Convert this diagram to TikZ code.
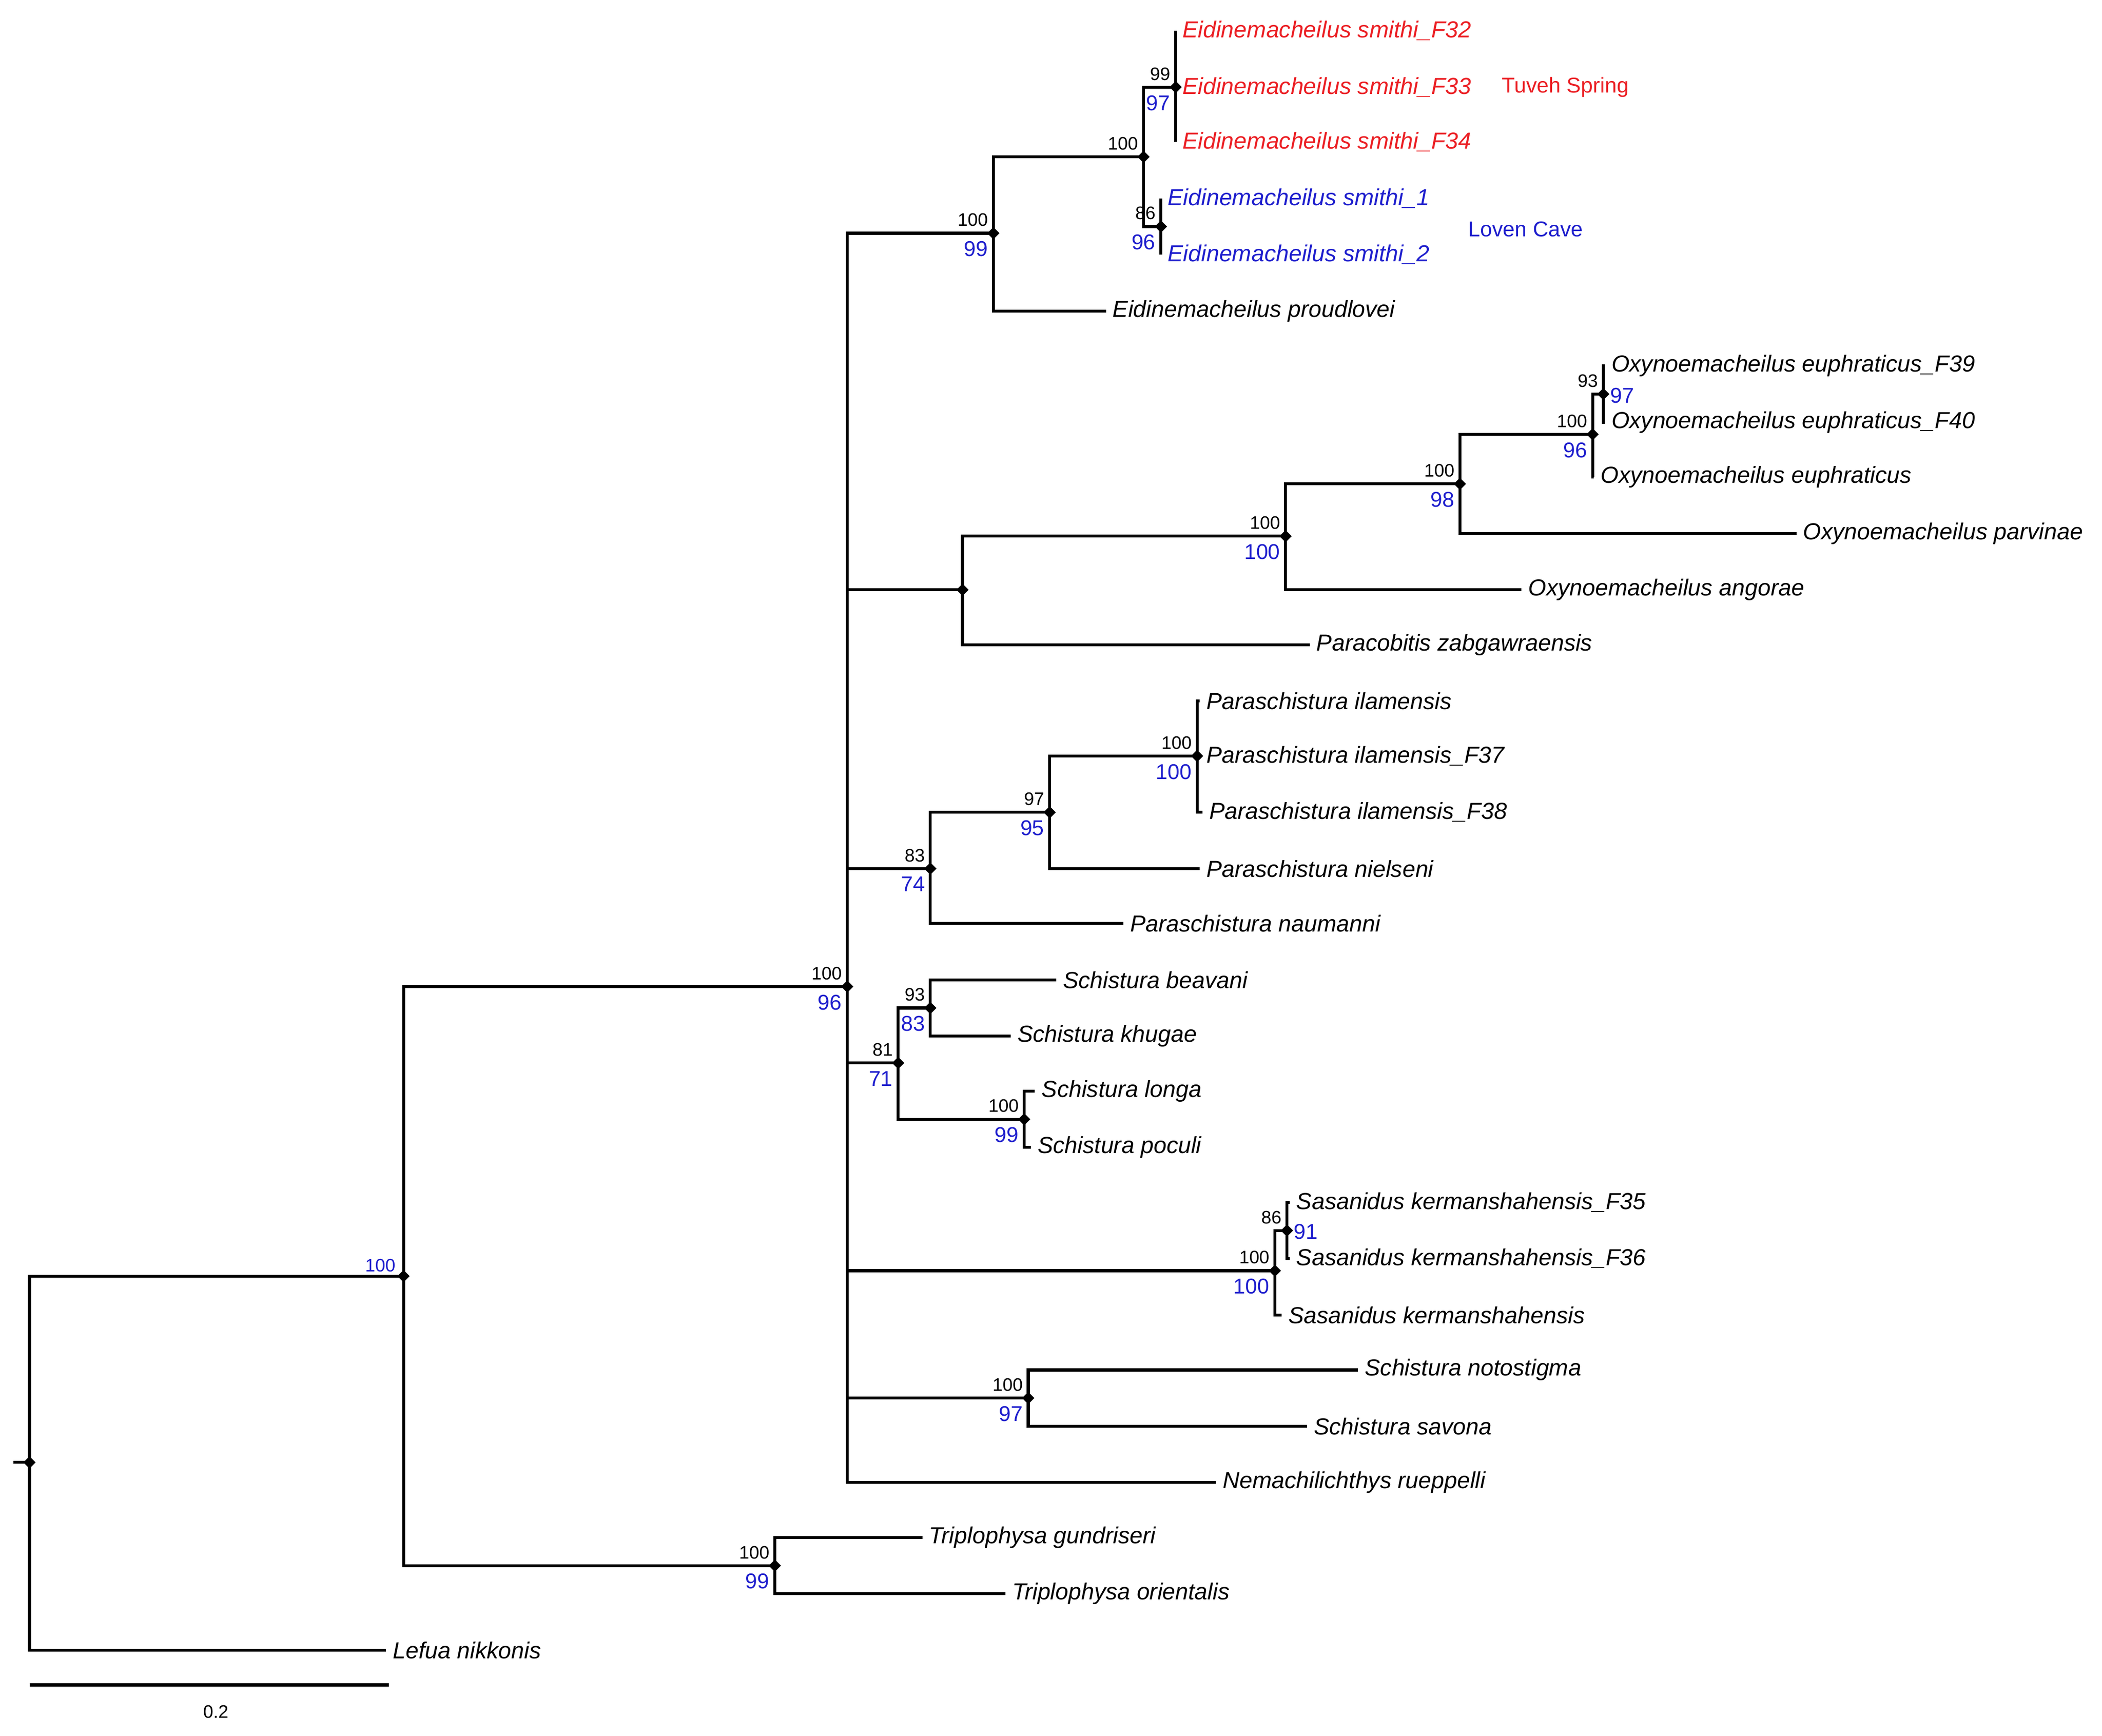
\documentclass[tikz,border=0pt]{standalone}
\usepackage{fontspec}
\usetikzlibrary{shapes.geometric}
\setmainfont{Liberation Sans}
\definecolor{tred}{RGB}{235,30,35}
\definecolor{tblue}{RGB}{30,30,205}
\begin{document}
\begin{tikzpicture}[x=1pt,y=-1pt,line width=2.2pt,
  dia/.style={diamond,fill=black,inner sep=0pt,minimum size=10pt},
  tip/.style={anchor=west,inner sep=4pt,font=\fontsize{17.3}{20}\selectfont\itshape},
  bs/.style={anchor=south east,inner sep=1pt,font=\fontsize{13.5}{15}\selectfont},
  bb/.style={anchor=north east,inner sep=1pt,text=tblue,font=\fontsize{16}{18}\selectfont}]
\useasboundingbox (0,0) rectangle (1568,1294.8);
% internal nodes
\foreach \n/\x/\y in {r/22/1091,a/301/952,b/632/736,e/741/174,es/853/117,er/877/65,eb/866/169,
 op/718/440,o1/959/400,o2/1089/361,o3/1188/324,o4/1196/294,
 p1/694/648,p2/783/606,p3/893/564,s1/670/793,s2/694/752,s3/764/835,
 k1/951/948,k2/960/918,ns/767/1043,t/578/1168}
 \node[dia] (\n) at (\x,\y) {};
\coordinate (stub) at (10,1091);
\draw (stub) -- (r.center);
% tips
\foreach \n/\x/\y/\c/\t in {
 f32/877/23/tred/{Eidinemacheilus smithi\_F32},
 f33/877/65/tred/{Eidinemacheilus smithi\_F33},
 f34/877/106/tred/{Eidinemacheilus smithi\_F34},
 sm1/866/148/tblue/{Eidinemacheilus smithi\_1},
 sm2/866/190/tblue/{Eidinemacheilus smithi\_2},
 pro/825/232/black/{Eidinemacheilus proudlovei},
 f39/1197/273/black/{Oxynoemacheilus euphraticus\_F39},
 f40/1197/315/black/{Oxynoemacheilus euphraticus\_F40},
 eup/1189/356/black/{Oxynoemacheilus euphraticus},
 par/1340/398/black/{Oxynoemacheilus parvinae},
 ang/1135/440/black/{Oxynoemacheilus angorae},
 zab/977/481/black/{Paracobitis zabgawraensis},
 ila/895/523/black/{Paraschistura ilamensis},
 f37/895/564/black/{Paraschistura ilamensis\_F37},
 f38/897/606/black/{Paraschistura ilamensis\_F38},
 nie/895/648/black/{Paraschistura nielseni},
 nau/838/689/black/{Paraschistura naumanni},
 bea/788/731/black/{Schistura beavani},
 khu/754/773/black/{Schistura khugae},
 lon/772/814/black/{Schistura longa},
 poc/769/856/black/{Schistura poculi},
 f35/962/897/black/{Sasanidus kermanshahensis\_F35},
 f36/962/939/black/{Sasanidus kermanshahensis\_F36},
 ker/956/981/black/{Sasanidus kermanshahensis},
 not/1013/1022/black/{Schistura notostigma},
 sav/975/1064/black/{Schistura savona},
 rue/907/1106/black/{Nemachilichthys rueppelli},
 gun/688/1147/black/{Triplophysa gundriseri},
 ori/750/1189/black/{Triplophysa orientalis},
 lef/288/1231/black/{Lefua nikkonis}}
 \node[tip,text=\c] (\n) at (\x,\y) {\t};
% connectors
\foreach \p/\c in {r/a,a/b,a/t,b/e,e/es,es/er,es/eb,b/op,op/o1,o1/o2,o2/o3,o3/o4,
 b/p1,p1/p2,p2/p3,b/s1,s1/s2,s1/s3,b/k1,k1/k2,b/ns}
 \draw (\p.center) |- (\c.center);
\foreach \p/\c in {r/lef,t/gun,t/ori,e/pro,er/f32,er/f33,er/f34,eb/sm1,eb/sm2,
 o4/f39,o4/f40,o3/eup,o2/par,o1/ang,op/zab,p3/ila,p3/f37,p3/f38,p2/nie,p1/nau,
 s2/bea,s2/khu,s3/lon,s3/poc,k2/f35,k2/f36,k1/ker,ns/not,ns/sav,b/rue}
 \draw (\p.center) |- (\c.west);
% support values
\foreach \n/\u/\l in {b/100/96,e/100/99,er/99/97,eb/86/96,o1/100/100,o2/100/98,o3/100/96,
 p1/83/74,p2/97/95,p3/100/100,s1/81/71,s2/93/83,s3/100/99,k1/100/100,ns/100/97,t/100/99}{
 \node[bs] at ([xshift=-2pt,yshift=3pt]\n.center) {\u};
 \node[bb] at ([xshift=-2pt,yshift=-4pt]\n.center) {\l};}
\node[bs] at ([xshift=-2pt,yshift=3pt]es.center) {100};
\node[bs] at ([xshift=-2pt,yshift=3pt]o4.center) {93};
\node[anchor=west,inner sep=1pt,text=tblue,font=\fontsize{16}{18}\selectfont] at ([xshift=3pt,yshift=-1pt]o4.center) {97};
\node[bs] at ([xshift=-2pt,yshift=3pt]k2.center) {86};
\node[anchor=west,inner sep=1pt,text=tblue,font=\fontsize{16}{18}\selectfont] at ([xshift=3pt,yshift=-1pt]k2.center) {91};
\node[bs,text=tblue] at ([xshift=-4pt,yshift=1pt]a.center) {100};
% clade names
\node[anchor=west,text=tred,font=\fontsize{16}{18}\selectfont] at (1116,65) {Tuveh Spring};
\node[anchor=west,text=tblue,font=\fontsize{16}{18}\selectfont] at (1091,171) {Loven Cave};
% scale bar
\coordinate (sb1) at (22,1257); \coordinate (sb2) at (290,1257);
\draw (sb1) -- (sb2);
\node[font=\fontsize{13.5}{15}\selectfont] at (161,1277) {0.2};
\end{tikzpicture}
\end{document}
